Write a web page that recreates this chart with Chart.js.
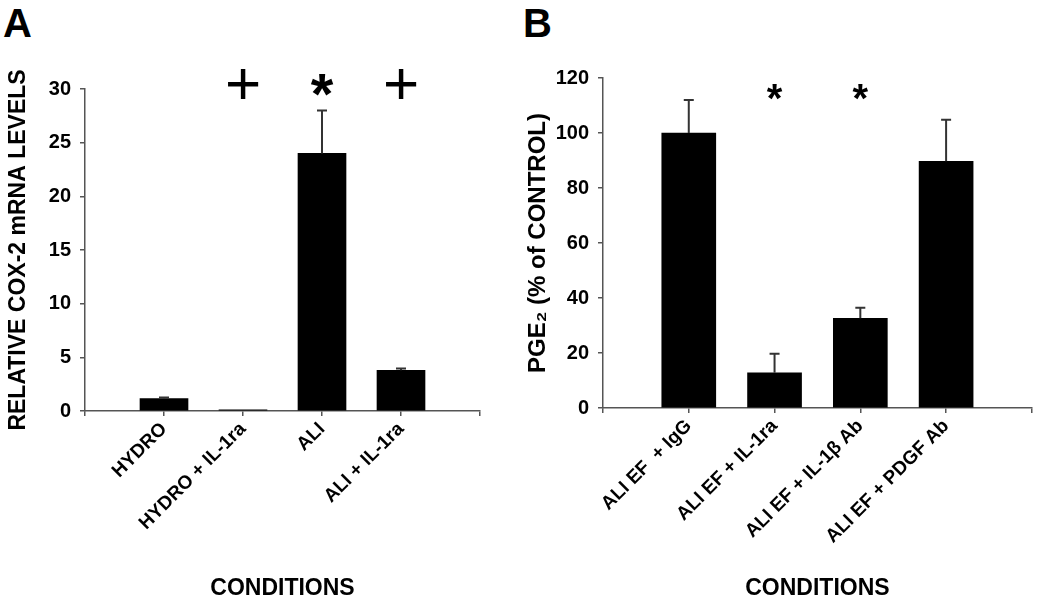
<!DOCTYPE html>
<html>
<head>
<meta charset="utf-8">
<script src="https://cdn.jsdelivr.net/npm/chart.js@4.4.1/dist/chart.umd.min.js"></script>
<style>
  body { margin: 0; background: #fff; width: 1050px; height: 602px; position: relative; overflow: hidden; font-family: "Liberation Sans", Arial, sans-serif; }
  canvas { position: absolute; top: 0; }
  #chartA { left: 0; }
  #chartB { left: 520px; }
  .panel { position: absolute; top: 3px; font-size: 40px; font-weight: bold; line-height: 1; }
</style>
</head>
<body>
<div class="panel" style="left:3px">A</div>
<div class="panel" style="left:523px">B</div>
<canvas id="chartA" width="525" height="602"></canvas>
<canvas id="chartB" width="530" height="602"></canvas>
<script>
// panel A
const conditionsA = ['HYDRO', 'HYDRO + IL-1ra', 'ALI', 'ALI + IL-1ra'];
const cox2Levels = [1.15, 0.1, 24.0, 3.8];
const cox2Sem = [0.1, 0, 4.0, 0.15];
const marksA = ['', '+', '*', '+'];
const markLevelA = 30.2;
const yTicksA = { min: 0, max: 30, step: 5 };

// panel B
const conditionsB = ['ALI EF  + IgG', 'ALI EF + IL-1ra', 'ALI EF + IL-1β Ab', 'ALI EF + PDGF Ab'];
const pge2Percent = [100, 12.8, 32.6, 89.7];
const pge2Sem = [12, 6.9, 3.9, 15.1];
const marksB = ['', '*', '*', ''];
const markLevelB = 114.7;
const yTicksB = { min: 0, max: 120, step: 20 };

const FONT = '"Liberation Sans", Arial, sans-serif';
const AXIS = '#555';

// upper error bars, drawn from the bar top through the y scale
const errorBars = {
    id: 'errorBars',
    afterDatasetsDraw(chart, args, opts) {
        const ctx = chart.ctx;
        const y = chart.scales.y;
        const meta = chart.getDatasetMeta(0);
        ctx.save();
        ctx.strokeStyle = '#333';
        ctx.lineWidth = 2;
        opts.sem.forEach((s, i) => {
            if (!s) return;
            const bar = meta.data[i + 1];
            const top = y.getPixelForValue(opts.values[i] + s);
            ctx.beginPath();
            ctx.moveTo(bar.x, bar.y);
            ctx.lineTo(bar.x, top);
            ctx.moveTo(bar.x - 5, top);
            ctx.lineTo(bar.x + 5, top);
            ctx.stroke();
        });
        ctx.restore();
    }
};

// significance symbols above the bars
const sigMarks = {
    id: 'sigMarks',
    afterDraw(chart, args, opts) {
        const ctx = chart.ctx;
        const y = chart.scales.y;
        const meta = chart.getDatasetMeta(0);
        const yc = y.getPixelForValue(opts.level);
        ctx.save();
        ctx.fillStyle = '#000';
        ctx.textAlign = 'center';
        ctx.textBaseline = 'middle';
        opts.marks.forEach((m, i) => {
            if (!m) return;
            const x = meta.data[i + 1].x;
            if (m === '*') {
                ctx.font = 'bold ' + opts.starSize + 'px ' + FONT;
                ctx.fillText(m, x, yc + opts.starSize * 0.2);
            } else {
                ctx.font = opts.plusSize + 'px ' + FONT;
                ctx.fillText(m, x, yc);
            }
        });
        ctx.restore();
    }
};

function makeChart(id, cfg) {
    // blank slots at both ends so the bars sit on the segment boundaries
    const labels = [''].concat(cfg.labels, ['']);
    const data = [null].concat(cfg.values, [null]);
    return new Chart(document.getElementById(id), {
        type: 'bar',
        data: {
            labels: labels,
            datasets: [{
                data: data,
                backgroundColor: '#000',
                borderWidth: 0,
                barThickness: cfg.barWidth,
            }]
        },
        plugins: [errorBars, sigMarks],
        options: {
            responsive: false,
            animation: false,
            layout: { padding: cfg.padding },
            scales: {
                x: {
                    offset: false,
                    grid: { offset: false, drawOnChartArea: false, color: AXIS, lineWidth: 1.5, tickLength: 5 },
                    border: { color: AXIS, width: 1.5 },
                    ticks: {
                        autoSkip: false, maxRotation: 45, minRotation: 45, padding: 2,
                        color: '#000', font: { family: FONT, size: 19, weight: 'bold' }
                    },
                    title: {
                        display: true, text: 'CONDITIONS', color: '#000',
                        font: { family: FONT, size: 23, weight: 'bold' },
                        padding: { top: 0, bottom: 0 }
                    },
                    afterFit: (s) => { s.height = cfg.xHeight; }
                },
                y: {
                    min: cfg.yTicks.min,
                    max: cfg.yTicks.max,
                    grid: { drawOnChartArea: false, color: AXIS, lineWidth: 1.5, tickLength: 5 },
                    border: { color: AXIS, width: 1.5 },
                    ticks: {
                        stepSize: cfg.yTicks.step, padding: 9,
                        color: '#000', font: { family: FONT, size: 20, weight: 'bold' }
                    },
                    title: {
                        display: true, text: cfg.yTitle, color: '#000',
                        font: { family: FONT, size: cfg.yTitleSize, weight: 'bold' },
                        padding: { top: cfg.yTitlePad, bottom: 0 }
                    },
                    afterFit: (s) => { s.width = cfg.yWidth; }
                }
            },
            plugins: {
                legend: { display: false },
                tooltip: { enabled: false },
                errorBars: { values: cfg.values, sem: cfg.sem },
                sigMarks: { marks: cfg.marks, level: cfg.markLevel, starSize: cfg.starSize, plusSize: 62 }
            }
        }
    });
}

makeChart('chartA', {
    labels: conditionsA, values: cox2Levels, sem: cox2Sem,
    marks: marksA, markLevel: markLevelA, yTicks: yTicksA,
    yTitle: 'RELATIVE COX-2 mRNA LEVELS', yTitlePad: 5, yTitleSize: 23,
    barWidth: 48, starSize: 58,
    padding: { left: 0, top: 89, right: 45, bottom: 0 },
    yWidth: 85, xHeight: 191
});

makeChart('chartB', {
    labels: conditionsB, values: pge2Percent, sem: pge2Sem,
    marks: marksB, markLevel: markLevelB, yTicks: yTicksB,
    yTitle: 'PGE₂ (% of CONTROL)', yTitlePad: 4, yTitleSize: 24,
    barWidth: 54, starSize: 40,
    padding: { left: 0, top: 78, right: 11, bottom: 0 },
    yWidth: 83, xHeight: 194
});
</script>
</body>
</html>
